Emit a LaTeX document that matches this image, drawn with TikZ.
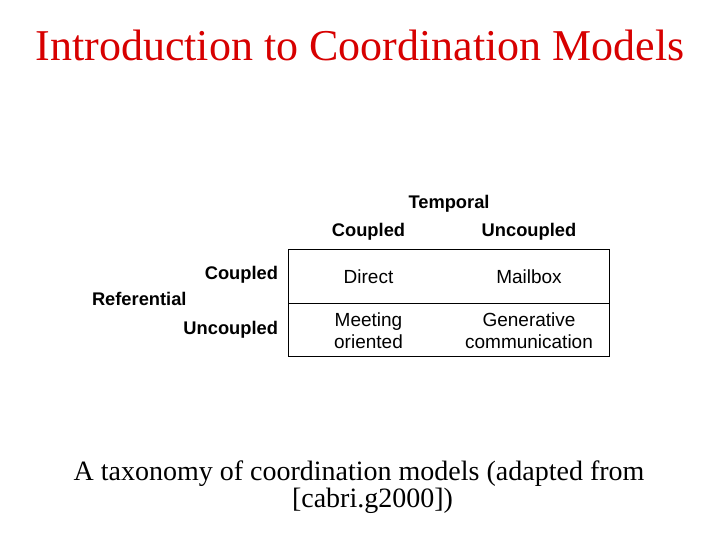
\documentclass[tikz,border=0pt]{standalone}
\usepackage{fontspec}
\setmainfont{Liberation Serif}
\newfontfamily\arialfont{Liberation Sans}
\definecolor{titlered}{RGB}{215,0,0}
\begin{document}
\begin{tikzpicture}[x=1pt,y=-1pt,
  every node/.style={inner sep=0pt,outer sep=0pt},
  titletext/.style={font=\fontsize{44}{48}\selectfont,text=titlered,anchor=base},
  captext/.style={font=\fontsize{28}{30}\selectfont,anchor=base},
  headtext/.style={font=\arialfont\bfseries\fontsize{18.3}{20}\selectfont,anchor=base},
  celltext/.style={font=\arialfont\fontsize{19}{21.3}\selectfont,anchor=base,align=center},
  gridline/.style={line width=1pt,draw=black}]
\useasboundingbox (0,0) rectangle (720,540);
\node[titletext] (title) at (360,61) {Introduction to Coordination Models};
% table frame
\coordinate (tl) at (288,249.5);
\coordinate (br) at (609.5,356);
\coordinate (ml) at (288,303.5);
\coordinate (mr) at (609.5,303.5);
\draw[gridline] (tl) rectangle (br);
\draw[gridline] (ml) -- (mr);
% headers
\node[headtext] (temporal) at (449,209) {Temporal};
\node[headtext] (ccoupled) at (368.5,236.5) {Coupled};
\node[headtext] (cuncoupled) at (529,236.5) {Uncoupled};
\node[headtext,anchor=base east] (rcoupled) at (278,279) {Coupled};
\node[headtext,anchor=base west] (referential) at (92,305) {Referential};
\node[headtext,anchor=base east] (runcoupled) at (278,334.5) {Uncoupled};
% cells
\node[celltext] (direct) at (368.5,283) {Direct};
\node[celltext] (mailbox) at (529,283) {Mailbox};
\node[celltext] (meeting) at (368.5,348) {Meeting\\oriented};
\node[celltext] (generative) at (529,348) {Generative\\communication};
% caption
\node[captext] (cap1) at (359,480) {A taxonomy of coordination models (adapted from};
\node[captext,anchor=base west] (cap2) at (292,507) {[cabri.g2000])};
\end{tikzpicture}
\end{document}
